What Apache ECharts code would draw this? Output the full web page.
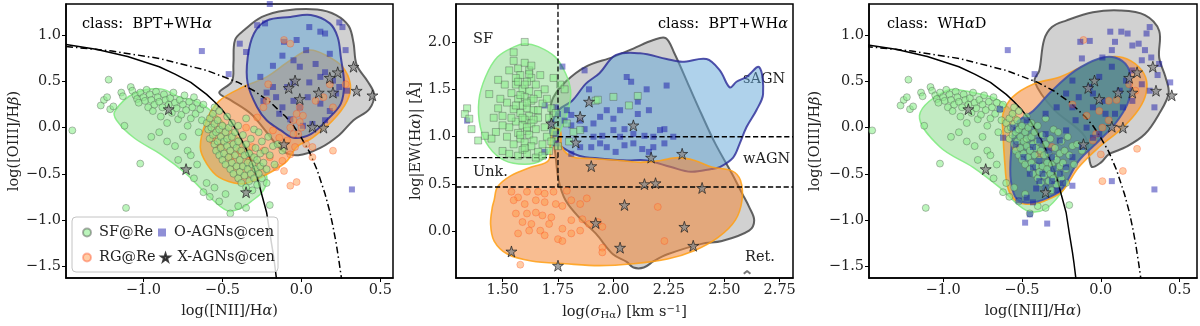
<!DOCTYPE html>
<html lang="en">
<head>
<meta charset="UTF-8">
<title>BPT / WHAN classes</title>
<style type="text/css">
    html, body { margin: 0; padding: 0; background: #fff; }
    #main { width: 1200px; height: 326px; }
</style>
</head>
<body>
<div id="main"></div>
<script src="https://cdn.jsdelivr.net/npm/echarts@6/dist/echarts.min.js"></script>
<script type="text/javascript">
// ---- tick labels ----
var bptXTicks = [-1.0, -0.5, 0.0, 0.5];
var bptYTicks = [-1.5, -1.0, -0.5, 0.0, 0.5, 1.0];
var sigmaTicks = [1.50, 1.75, 2.00, 2.25, 2.50, 2.75];
var ewTicks = [0.0, 0.5, 1.0, 1.5, 2.0];

// ---- demarcation curves ----
var kauffmannLine = [[-1.49,0.90],[-1.3,0.85],[-1.1,0.77],[-0.9,0.66],[-0.8,0.58],[-0.7,0.49],[-0.6,0.36],[-0.55,0.28],[-0.5,0.19],[-0.45,0.08],[-0.4,-0.06],[-0.35,-0.23],[-0.3,-0.44],[-0.27,-0.60],[-0.25,-0.73],[-0.22,-0.92],[-0.2,-1.14],[-0.18,-1.35],[-0.17,-1.47],[-0.157,-1.65]];
var kewleyLine = [[-1.49,0.88],[-1.2,0.83],[-0.9,0.75],[-0.6,0.62],[-0.4,0.49],[-0.3,0.40],[-0.2,0.28],[-0.1,0.12],[-0.05,0.02],[0.0,-0.11],[0.05,-0.26],[0.1,-0.46],[0.15,-0.72],[0.18,-0.91],[0.2,-1.07],[0.22,-1.25],[0.24,-1.47],[0.255,-1.65]];

// ---- panel 1 & 3 (BPT plane) points ----
var sfBpt = [[-1.45,-0.03],[-1.22,0.52],[-1.27,0.24],[-1.25,0.30],[-1.23,0.33],[-1.21,0.20],[-1.19,0.23],[-1.14,0.38],[-1.13,0.34],[-1.12,0.02],[-1.08,0.44],[-1.07,0.40],[-1.05,0.35],[-1.04,0.31],[-1.03,0.27],[-1.02,0.38],[-1.00,0.33],[-0.99,0.29],[-0.98,0.41],[-0.97,0.22],[-0.96,0.36],[-0.95,0.30],[-0.94,0.18],[-0.93,0.25],[-0.92,0.39],[-0.91,0.33],[-0.90,0.28],[-0.89,0.12],[-0.88,0.22],[-0.87,0.36],[-0.86,0.30],[-0.85,0.05],[-0.84,0.25],[-0.83,0.32],[-0.82,0.16],[-0.81,0.38],[-0.80,0.27],[-0.79,0.21],[-0.78,0.09],[-0.77,0.30],[-0.76,0.14],[-0.75,0.25],[-0.74,0.35],[-0.73,0.19],[-0.72,0.02],[-0.71,0.28],[-0.70,0.10],[-0.69,0.22],[-0.68,0.33],[-0.67,0.15],[-0.66,0.27],[-0.65,-0.05],[-0.64,0.20],[-0.63,0.08],[-0.62,0.25],
  [-1.02,-0.39],[-1.11,-0.87],[-0.95,-0.10],[-0.90,-0.05],[-0.85,-0.15],[-0.80,-0.20],[-0.78,-0.35],[-0.75,-0.10],[-0.72,-0.25],[-0.70,-0.30],[-0.68,-0.55],[-0.66,-0.40],[-0.62,-0.70],[-0.60,-0.60],[-0.58,-0.75],[-0.55,-0.65],[-0.52,-0.80],[-0.48,-0.72],[-0.45,-0.93],[-0.40,-0.85],[-0.35,-0.87],[-0.20,-0.84],[-0.22,-0.60],[-0.25,-0.55],
  [-0.60,0.05],[-0.59,-0.02],[-0.58,0.10],[-0.58,-0.12],[-0.57,0.00],[-0.56,-0.08],[-0.56,0.15],[-0.55,-0.18],[-0.55,0.04],[-0.54,-0.25],[-0.54,-0.05],[-0.53,0.08],[-0.53,-0.15],[-0.52,-0.30],[-0.52,-0.02],[-0.51,-0.10],[-0.51,-0.22],[-0.50,0.02],[-0.50,-0.35],[-0.49,-0.15],[-0.49,-0.28],[-0.48,-0.05],[-0.48,-0.40],[-0.47,-0.20],[-0.47,-0.12],[-0.46,-0.32],[-0.46,0.00],[-0.45,-0.45],[-0.45,-0.25],[-0.44,-0.10],[-0.44,-0.38],[-0.43,-0.18],[-0.43,-0.50],[-0.42,-0.30],[-0.42,-0.05],[-0.41,-0.42],[-0.41,-0.22],[-0.40,-0.55],[-0.40,-0.15],[-0.39,-0.35],[-0.39,-0.48],[-0.38,-0.25],[-0.38,-0.60],[-0.37,-0.08],[-0.37,-0.42],[-0.36,-0.30],[-0.36,-0.52],[-0.35,-0.18],[-0.35,-0.65],[-0.34,-0.38],[-0.34,-0.45],[-0.33,-0.28],[-0.33,-0.58],[-0.32,-0.12],[-0.32,-0.50],[-0.31,-0.40],[-0.31,-0.68],[-0.30,-0.32],[-0.30,-0.55],[-0.29,-0.22],[-0.29,-0.45],[-0.28,-0.62],[-0.28,-0.35],[-0.27,-0.50],[-0.26,-0.28],[-0.26,-0.42],[-0.25,-0.15],[-0.24,-0.38],[-0.23,-0.25],[-0.22,-0.45],[-0.21,-0.10],[-0.20,-0.30],[-0.18,-0.20],[-0.17,-0.40],[-0.15,-0.18],[-0.12,-0.25],[-0.55,0.22],[-0.52,0.18],[-0.47,0.12],[-0.44,0.05],[-0.40,0.02],[-0.35,0.10],[-0.30,-0.02],[-0.27,-0.05]];
var rgBpt = [[-0.11,0.95],[-0.07,0.91],[-0.21,0.47],[-0.22,0.29],[-0.24,0.22],[-0.28,0.11],[-0.35,0.00],[-0.18,-0.03],[-0.14,-0.11],[-0.09,-0.14],[-0.07,0.00],[-0.05,0.08],[-0.03,0.15],[-0.01,0.22],[-0.02,-0.07],[0.00,0.00],[-0.04,-0.21],[-0.07,-0.29],[-0.12,-0.36],[-0.11,-0.47],[-0.07,-0.63],[-0.03,-0.59],[-0.16,-0.43],[-0.20,-0.32],[-0.24,-0.25],[-0.31,-0.21],[-0.33,-0.36],[-0.39,-0.25],[-0.45,-0.32],[-0.52,-0.21],[-0.56,-0.14],[0.20,-0.25],[0.07,-0.32],[0.09,0.29],[0.14,0.33],[0.20,0.22],[0.28,0.47],[0.18,0.47],[0.07,-0.21],[0.03,-0.18],[0.01,0.13],[-0.01,0.06],[-0.05,-0.07]];
var agnOptBpt = [[-0.20,1.34],[-0.63,0.83],[-0.39,0.91],[-0.46,0.58],[-0.35,0.82],[-0.28,1.11],[-0.23,1.13],[-0.11,0.93],[-0.03,0.95],[0.05,1.09],[0.12,1.04],[0.15,1.02],[0.24,1.14],[0.26,1.09],[0.28,0.84],[0.18,0.80],[0.03,0.84],[-0.05,0.73],[-0.12,0.78],[-0.18,0.67],[-0.26,0.55],[-0.01,0.66],[0.09,0.69],[0.15,0.60],[0.20,0.51],[0.12,0.55],[0.05,0.49],[-0.05,0.49],[-0.09,0.44],[-0.18,0.44],[-0.22,0.38],[-0.24,0.29],[-0.16,0.33],[-0.12,0.22],[-0.05,0.29],[-0.01,0.22],[0.04,0.33],[0.12,0.26],[0.18,0.18],[0.22,0.37],[0.24,0.44],[0.29,0.40],[0.15,0.08],[0.07,0.04],[0.01,0.02],[-0.07,0.09],[-0.14,0.15],[0.32,-0.67]];
var agnXBpt = [[-0.84,0.20],[-0.73,-0.45],[-0.35,-0.70],[-0.11,-0.18],[-0.08,0.43],[-0.04,0.51],[-0.01,0.31],[0.07,0.01],[0.14,0.00],[0.11,0.38],[0.18,0.54],[0.23,0.60],[0.20,0.38],[0.33,0.66],[0.35,0.40],[0.45,0.35]];

// panel 3 (WHaD classes) reassigns the same galaxies
var rgWhad = [[-0.11,0.95],[-0.01,0.18],[0.00,-0.29],[0.01,-0.58],[0.14,-0.47],[0.23,-0.23],[0.18,0.47],[0.05,0.29],[-0.18,0.25],[-0.31,-0.21],[-0.39,-0.29],[-0.54,-0.21],[-0.05,-0.14],[-0.09,0.13],[0.01,0.00],[0.05,0.08],[-0.03,-0.07],[0.22,0.40],[0.10,0.30]];
var agnOptWhad = [[-0.59,0.84],[-0.42,0.58],[-0.13,0.93],[-0.07,0.94],[0.06,1.04],[0.13,1.04],[0.17,1.02],[0.29,1.02],[0.31,1.09],[0.20,0.89],[0.07,0.84],[0.01,0.76],[-0.12,0.75],[0.28,0.84],[0.26,0.73],[0.36,0.57],[0.44,0.49],[0.31,0.40],[0.34,0.22],[0.20,0.29],[0.14,0.22],[0.09,0.15],[0.03,0.15],[-0.05,0.37],[-0.18,0.51],[-0.22,0.37],[-0.28,0.22],[-0.35,0.15],[-0.64,0.20],[-0.62,-0.11],[-0.54,-0.18],[-0.49,-0.32],[-0.43,-0.43],[-0.39,-0.58],[-0.35,-0.65],[-0.31,-0.58],[-0.26,-0.50],[-0.22,-0.43],[-0.18,-0.32],[-0.12,-0.21],[-0.05,-0.11],[-0.01,-0.07],[-0.09,0.00],[-0.16,0.08],[-0.22,-0.03],[-0.26,-0.14],[-0.33,-0.25],[-0.39,-0.36],[-0.45,-0.50],[-0.52,-0.79],[-0.47,-0.76],[-0.43,-0.81],[-0.45,-0.94],[-0.48,-1.03],[-0.34,-1.04],[-0.18,-0.63],[0.07,-0.58],[0.34,-0.67],[-0.39,-0.14],[-0.35,-0.07],[-0.31,-0.32],[-0.43,-0.21],[-0.56,0.00],[-0.47,0.08],[0.20,0.62],[0.32,0.76],[0.37,0.69],[0.09,0.93],[0.24,0.91],[0.07,0.66],[-0.01,0.55],[-0.07,0.44],[-0.14,0.33],[-0.18,0.22],[-0.05,0.22],[0.01,0.29],[0.12,0.40],[0.16,0.51],[0.26,0.47],[-0.30,-0.45],[-0.37,-0.50],[-0.41,-0.66],[-0.28,-0.68],[-0.24,-0.60]];

// ---- panel 2 (sigma vs EW) points ----
var sfSigma = [[1.55,1.80],[1.57,1.72],[1.60,1.78],[1.62,1.70],[1.58,1.65],[1.63,1.62],[1.61,1.58],[1.56,1.55],[1.65,1.55],[1.59,1.50],[1.62,1.48],[1.54,1.46],[1.66,1.45],[1.60,1.42],[1.57,1.40],[1.63,1.38],[1.52,1.36],[1.68,1.35],[1.59,1.33],[1.61,1.30],[1.55,1.29],[1.64,1.28],[1.58,1.25],[1.62,1.22],[1.50,1.22],[1.66,1.20],[1.60,1.18],[1.56,1.16],[1.63,1.14],[1.59,1.12],[1.53,1.10],[1.65,1.08],[1.61,1.06],[1.57,1.04],[1.62,1.02],[1.58,0.98],[1.64,0.96],[1.60,0.94],[1.55,0.92],[1.63,0.90],[1.59,0.86],[1.61,0.82],[1.66,0.84],[1.57,0.80],[1.68,0.92],[1.70,1.00],[1.72,0.95],[1.69,1.10],[1.71,1.20],[1.73,1.05],[1.48,1.30],[1.46,1.20],[1.47,1.05],[1.45,0.98],[1.49,1.40],[1.44,1.45],[1.51,1.55],[1.48,1.60],[1.53,1.70],[1.56,1.62],[1.67,1.65],[1.69,1.50],[1.70,1.40],[1.72,1.30],[1.74,1.25],[1.76,1.55],[1.78,1.50],[1.73,1.62],[1.60,2.00],[1.55,1.89],[1.63,1.75],[1.34,1.30],[1.33,1.24],[1.35,1.19],[1.36,1.08],[1.39,0.96],[1.42,1.01],[1.50,0.85],[1.53,0.82],[1.65,0.78],[1.68,0.80],[1.71,0.85],[1.75,0.90],[1.80,0.95],[1.82,1.05],[1.79,1.14],[1.54,1.20],[1.56,1.33],[1.58,1.44],[1.60,1.55],[1.62,1.66],[1.57,1.58],[1.61,1.36],[1.59,1.20],[1.61,1.10],[1.58,1.02],[1.60,0.88],[1.64,1.18],[1.66,1.28],[1.64,1.40],[1.52,1.00],[1.50,1.12],[1.92,1.38],[2.00,1.42],[2.07,1.33],[2.11,1.43],[1.93,1.39],[1.85,1.07]];
var rgSigma = [[1.54,0.42],[1.57,0.36],[1.61,0.42],[1.66,0.42],[1.69,0.40],[1.73,0.42],[1.79,0.43],[1.55,0.33],[1.60,0.29],[1.65,0.33],[1.69,0.31],[1.74,0.29],[1.77,0.27],[1.81,0.33],[1.85,0.29],[1.88,0.35],[1.56,0.19],[1.61,0.19],[1.65,0.20],[1.68,0.17],[1.72,0.15],[1.59,0.10],[1.63,0.08],[1.67,0.01],[1.71,0.08],[1.77,0.03],[1.81,0.12],[1.86,0.13],[1.89,0.08],[1.93,0.10],[1.95,0.05],[1.85,0.01],[1.81,-0.02],[1.57,-0.02],[1.62,0.01],[1.75,-0.08],[1.77,-0.10],[1.69,-0.04],[1.95,-0.17],[1.95,-0.22],[1.58,-0.35],[2.20,0.26],[2.23,-0.10]];
var agnOptSigma = [[1.77,1.74],[1.87,1.70],[1.89,1.50],[2.06,1.63],[2.08,1.58],[2.15,1.50],[2.24,1.54],[2.11,1.37],[2.16,1.28],[2.11,1.24],[2.03,1.28],[2.00,1.19],[1.94,1.21],[1.97,1.28],[1.91,1.14],[1.85,1.17],[1.81,1.23],[1.79,1.28],[1.75,1.24],[1.74,1.31],[1.69,1.33],[1.72,1.15],[1.78,1.17],[1.81,1.12],[1.87,1.08],[1.91,1.00],[1.95,1.01],[2.00,1.07],[2.05,1.08],[2.09,1.03],[2.14,1.01],[2.18,1.00],[2.21,1.07],[2.23,1.08],[2.27,1.00],[2.23,0.93],[2.18,0.89],[2.13,0.87],[2.09,0.93],[2.05,0.91],[2.01,0.84],[1.97,0.89],[1.94,0.93],[1.90,0.89],[1.85,0.89],[1.81,0.82],[1.74,0.93],[1.69,0.84],[1.74,1.03],[2.03,1.00],[2.16,0.84],[1.34,1.17]];
var agnXSigma = [[1.54,-0.21],[1.75,-0.36],[1.72,1.14],[1.85,1.21],[1.89,1.37],[1.83,0.94],[1.90,0.69],[2.09,1.12],[2.17,0.78],[2.31,0.82],[2.14,0.50],[2.19,0.51],[2.40,0.46],[2.05,0.28],[1.92,0.09],[2.03,-0.17],[2.32,0.05],[2.36,-0.15]];

// ---- WHAN-style cuts in panel 2 ----
var sigmaCut = 1.75, ewSfCut = 0.78, ewAgnCut = 1.0, ewRetCut = 0.47;
var retMarker = [[2.588,-0.445],[2.603,-0.415],[2.618,-0.445]];

// ---- density contours ----
var contourSfBpt = [[-1.18,0.18],[-1.06,0.37],[-0.89,0.42],[-0.77,0.33],[-0.66,0.28],[-0.55,0.15],[-0.42,-0.08],[-0.30,-0.30],[-0.22,-0.52],[-0.24,-0.68],[-0.31,-0.79],[-0.39,-0.88],[-0.47,-0.90],[-0.60,-0.72],[-0.73,-0.50],[-0.89,-0.29],[-1.06,-0.11],[-1.17,0.08]];
var contourRgBpt = [[-0.64,-0.21],[-0.60,0.08],[-0.52,0.29],[-0.37,0.44],[-0.22,0.55],[-0.07,0.73],[0.05,0.84],[0.16,0.78],[0.26,0.66],[0.31,0.47],[0.29,0.29],[0.20,0.08],[0.07,-0.11],[-0.03,-0.21],[-0.09,-0.36],[-0.18,-0.47],[-0.31,-0.58],[-0.39,-0.61],[-0.52,-0.54],[-0.60,-0.39]];
var contourAgnBpt = [[-0.07,1.20],[0.06,1.22],[0.18,1.13],[0.23,0.98],[0.25,0.76],[0.27,0.48],[0.25,0.26],[0.16,0.08],[0.06,-0.07],[-0.05,-0.11],[-0.13,-0.03],[-0.22,0.08],[-0.28,0.22],[-0.34,0.48],[-0.34,0.76],[-0.30,1.02],[-0.22,1.16]];
var contourAllBpt = [[-0.42,0.95],[-0.36,1.06],[-0.25,1.20],[-0.10,1.27],[0.10,1.28],[0.22,1.22],[0.30,1.10],[0.33,0.92],[0.35,0.68],[0.42,0.50],[0.46,0.36],[0.43,0.20],[0.33,0.08],[0.24,-0.08],[0.12,-0.22],[-0.02,-0.30],[-0.12,-0.25],[-0.22,-0.05],[-0.32,0.15],[-0.45,0.30],[-0.52,0.38],[-0.44,0.50],[-0.43,0.70]];
var contourSfWhad = [[-1.15,0.13],[-0.98,0.40],[-0.81,0.38],[-0.64,0.29],[-0.52,0.10],[-0.40,-0.15],[-0.28,-0.40],[-0.22,-0.58],[-0.24,-0.68],[-0.35,-0.88],[-0.47,-0.90],[-0.64,-0.65],[-0.81,-0.43],[-1.02,-0.21]];
var contourRgWhad = [[-0.62,0.15],[-0.56,0.33],[-0.43,0.47],[-0.26,0.55],[-0.12,0.66],[0.03,0.76],[0.14,0.76],[0.24,0.66],[0.29,0.51],[0.28,0.33],[0.22,0.15],[0.12,-0.03],[-0.01,-0.21],[-0.14,-0.43],[-0.24,-0.68],[-0.31,-0.76],[-0.43,-0.83],[-0.54,-0.79],[-0.59,-0.65],[-0.61,-0.36],[-0.62,-0.07]];
var contourAgnWhad = [[-0.54,0.04],[-0.43,0.18],[-0.31,0.40],[-0.16,0.62],[-0.01,0.75],[0.09,0.76],[0.17,0.66],[0.19,0.47],[0.17,0.26],[0.09,0.04],[-0.01,-0.14],[-0.14,-0.36],[-0.24,-0.65],[-0.31,-0.74],[-0.43,-0.81],[-0.53,-0.78],[-0.57,-0.58],[-0.57,-0.29]];
var contourAllWhad = [[-0.36,0.95],[-0.31,1.09],[-0.22,1.16],[-0.05,1.25],[0.12,1.27],[0.28,1.22],[0.37,1.05],[0.37,0.76],[0.41,0.55],[0.43,0.37],[0.37,0.15],[0.28,-0.07],[0.16,-0.21],[0.05,-0.29],[0.00,-0.38],[-0.06,-0.42],[-0.10,-0.10],[-0.30,0.20],[-0.42,0.50],[-0.39,0.62]];
var contourSfSigma = [[1.554,1.95],[1.477,1.84],[1.423,1.63],[1.393,1.38],[1.40,1.10],[1.439,0.89],[1.508,0.75],[1.60,0.71],[1.676,0.75],[1.722,0.89],[1.768,1.10],[1.799,1.31],[1.807,1.49],[1.784,1.67],[1.738,1.84],[1.661,1.95],[1.60,1.98]];
var contourRgSigma = [[1.462,0.33],[1.477,0.47],[1.538,0.59],[1.63,0.68],[1.707,0.75],[1.715,0.93],[1.73,1.08],[1.76,1.07],[1.768,0.89],[1.814,0.79],[1.906,0.77],[2.03,0.75],[2.121,0.73],[2.213,0.75],[2.29,0.78],[2.367,0.75],[2.443,0.68],[2.535,0.64],[2.573,0.54],[2.58,0.33],[2.55,0.12],[2.474,-0.06],[2.367,-0.20],[2.244,-0.29],[2.09,-0.34],[1.937,-0.36],[1.784,-0.34],[1.63,-0.31],[1.523,-0.24],[1.462,-0.10],[1.446,0.08],[1.454,0.26]];
var contourAgnSigma = [[1.715,1.07],[1.753,1.28],[1.814,1.38],[1.876,1.56],[1.937,1.67],[2.01,1.86],[2.12,1.88],[2.24,1.82],[2.31,1.79],[2.42,1.82],[2.48,1.70],[2.525,1.52],[2.555,1.58],[2.60,1.63],[2.657,1.735],[2.675,1.45],[2.645,1.28],[2.60,1.10],[2.57,0.93],[2.54,0.78],[2.48,0.68],[2.443,0.66],[2.35,0.63],[2.26,0.68],[2.15,0.75],[2.06,0.75],[1.937,0.77],[1.845,0.80],[1.768,0.89],[1.73,0.98]];
var contourAllSigma = [[1.73,1.42],[1.784,1.58],[1.876,1.74],[1.998,1.84],[2.09,1.93],[2.18,2.02],[2.236,2.04],[2.275,1.88],[2.336,1.56],[2.397,1.24],[2.459,0.93],[2.535,0.61],[2.581,0.40],[2.612,0.26],[2.635,0.12],[2.612,0.01],[2.49,-0.10],[2.397,-0.13],[2.244,-0.24],[2.183,-0.31],[2.137,-0.38],[2.09,-0.38],[2.06,-0.32],[1.998,-0.24],[1.92,-0.02],[1.845,0.15],[1.784,0.33],[1.753,0.54],[1.738,0.82],[1.722,1.10],[1.715,1.28]];

// ---- styling ----
var FONT = 'DejaVu Serif';
var FS = 14.5;
var STAR = 'path://M50,2 L61,36 L97,36 L68,57 L79,92 L50,71 L21,92 L32,57 L3,36 L39,36 Z';
var green = { color: 'rgba(144,238,144,0.75)', borderColor: 'rgba(70,70,70,0.55)', borderWidth: 0.8 };
var orange = { color: 'rgba(255,150,70,0.6)', borderColor: 'rgba(255,60,20,0.45)', borderWidth: 0.8 };
var blue = { color: 'rgba(20,20,170,0.6)', borderWidth: 0 };
var star = { color: '#8a8a8a', borderColor: '#111', borderWidth: 0.8 };

function fmt(d) {
    return function (v) { return v.toFixed(d).replace('-', '\u2212'); };
}

var nameRich = {
    n: { fontFamily: FONT, fontSize: FS, color: '#222' },
    i: { fontFamily: FONT, fontSize: FS, color: '#222', fontStyle: 'italic' },
    s: { fontFamily: FONT, fontSize: 10, color: '#222', padding: [6, 0, 0, 0] },
    u: { fontFamily: FONT, fontSize: 10, color: '#222', padding: [0, 0, 7, 0] }
};

function xAx(i, min, max, ticks, d, name) {
    return {
        type: 'value', gridIndex: i, min: min, max: max,
        name: name, nameLocation: 'middle', nameGap: 26,
        nameTextStyle: { fontFamily: FONT, fontSize: FS, color: '#222', rich: nameRich },
        axisLine: { show: true, onZero: false, lineStyle: { color: '#000', width: 1.5 } },
        axisTick: { show: true, inside: false, length: 4, customValues: ticks, lineStyle: { color: '#000' } },
        axisLabel: { customValues: ticks, formatter: fmt(d), fontFamily: FONT, fontSize: FS, color: '#222', margin: 5 },
        splitLine: { show: false }
    };
}
function yAx(i, min, max, ticks, d, name, gap) {
    return {
        type: 'value', gridIndex: i, min: min, max: max,
        name: name, nameLocation: 'middle', nameGap: gap, nameRotate: 90,
        nameTextStyle: { fontFamily: FONT, fontSize: FS, color: '#222', rich: nameRich },
        axisLine: { show: true, onZero: false, lineStyle: { color: '#000', width: 1.5 } },
        axisTick: { show: true, inside: false, length: 4, customValues: ticks, lineStyle: { color: '#000' } },
        axisLabel: { customValues: ticks, formatter: fmt(d), fontFamily: FONT, fontSize: FS, color: '#222', margin: 5 },
        splitLine: { show: false }
    };
}

function contour(i, pts, fill, stroke, lw) {
    return {
        type: 'custom', xAxisIndex: i, yAxisIndex: i, silent: true, z: 1,
        data: [pts[0]],
        renderItem: function (params, api) {
            var p = pts.map(function (d) { return api.coord(d); });
            return { type: 'polygon', shape: { points: p, smooth: 0.35 },
                     style: { fill: fill, stroke: stroke, lineWidth: lw } };
        }
    };
}
function pts(i, name, data, symbol, size, style, z) {
    return { type: 'scatter', name: name, xAxisIndex: i, yAxisIndex: i, data: data,
             symbol: symbol, symbolSize: size, itemStyle: style, z: z, silent: true };
}
function line(i, data, type, w, color) {
    return { type: 'line', xAxisIndex: i, yAxisIndex: i, data: data, showSymbol: false,
             symbol: 'none', silent: true, z: 3,
             lineStyle: { color: color || '#000', width: w, type: type } };
}
function legendRow(top, names) {
    return {
        left: 82, top: top, padding: 0, z: 20,
        itemWidth: 8, itemHeight: 8, itemGap: 5, selectedMode: false,
        textStyle: { fontFamily: FONT, fontSize: FS, color: '#222', padding: [0, 0, 0, 3] },
        data: names
    };
}

var grayFill = 'rgba(135,135,135,0.38)', grayEdge = 'rgba(70,70,70,0.85)';
var blueFill = 'rgba(95,165,215,0.5)', blueEdge = 'rgba(40,40,150,0.8)';
var orangeFill = 'rgba(242,135,55,0.55)', orangeEdge = 'rgba(255,160,20,0.85)';
var greenFill = 'rgba(120,210,120,0.45)', greenEdge = 'rgba(130,235,130,0.9)';
var tealFill = 'rgba(70,135,150,0.85)', tealEdge = 'rgba(60,80,170,0.85)';

var chart = echarts.init(document.getElementById('main'), null, { renderer: 'canvas' });
chart.setOption({
    animation: false,
    backgroundColor: '#fff',
    grid: [
        { left: 66, top: 4, width: 327, height: 274, show: true, borderColor: '#000', borderWidth: 1.5, backgroundColor: 'transparent' },
        { left: 456, top: 4, width: 337, height: 274, show: true, borderColor: '#000', borderWidth: 1.5, backgroundColor: 'transparent' },
        { left: 869, top: 4, width: 328, height: 274, show: true, borderColor: '#000', borderWidth: 1.5, backgroundColor: 'transparent' }
    ],
    xAxis: [
        xAx(0, -1.49, 0.58, bptXTicks, 1, '{n|log([NII]/H}{i|α}{n|)}'),
        xAx(1, 1.29, 2.81, sigmaTicks, 2, '{n|log(}{i|σ}{s|Hα}{n|) [km s}{u|−1}{n|]}'),
        xAx(2, -1.47, 0.61, bptXTicks, 1, '{n|log([NII]/H}{i|α}{n|)}')
    ],
    yAxis: [
        yAx(0, -1.63, 1.34, bptYTicks, 1, '{n|log([OIII]/H}{i|β}{n|)}', 43),
        yAx(1, -0.49, 2.4, ewTicks, 1, '{n|log|EW(H}{i|α}{n|)| [Å]}', 32),
        yAx(2, -1.63, 1.34, bptYTicks, 1, '{n|log([OIII]/H}{i|β}{n|)}', 46)
    ],
    legend: [
        legendRow(225, ['SF@Re', 'O-AGNs@cen']),
        legendRow(250, ['RG@Re', 'X-AGNs@cen'])
    ],
    graphic: [
        { type: 'rect', z: 15, shape: { x: 72, y: 217, width: 206, height: 55, r: 4 },
          style: { fill: 'rgba(255,255,255,0.82)', stroke: '#c4c4c4', lineWidth: 1 } },
        { type: 'text', left: 82, top: 17, style: { text: '{n|class:  BPT+WH}{i|α}', rich: nameRich } },
        { type: 'text', left: 658, top: 17, style: { text: '{n|class:  BPT+WH}{i|α}', rich: nameRich } },
        { type: 'text', left: 887, top: 17, style: { text: '{n|class:  WH}{i|α}{n|D}', rich: nameRich } },
        { type: 'text', left: 473, top: 32, style: { text: 'SF', font: FS + 'px ' + FONT, fill: '#222' } },
        { type: 'text', left: 743, top: 72, style: { text: 'sAGN', font: FS + 'px ' + FONT, fill: '#222' } },
        { type: 'text', left: 743, top: 152, style: { text: 'wAGN', font: FS + 'px ' + FONT, fill: '#222' } },
        { type: 'text', left: 473, top: 165, style: { text: 'Unk.', font: FS + 'px ' + FONT, fill: '#222' } },
        { type: 'text', left: 745, top: 250, style: { text: 'Ret.', font: FS + 'px ' + FONT, fill: '#222' } }
    ],
    series: [
        // panel 1
        contour(0, contourAllBpt, grayFill, grayEdge, 2),
        contour(0, contourSfBpt, greenFill, greenEdge, 1.5),
        contour(0, contourRgBpt, orangeFill, orangeEdge, 1.6),
        contour(0, contourAgnBpt, blueFill, blueEdge, 2),
        line(0, kauffmannLine, 'solid', 1.5),
        line(0, kewleyLine, [7, 3, 1.5, 3], 1.5),
        pts(0, 'O-AGNs@cen', agnOptBpt, 'rect', 6, blue, 4),
        pts(0, 'RG@Re', rgBpt, 'circle', 7, orange, 5),
        pts(0, 'SF@Re', sfBpt, 'circle', 7, green, 6),
        pts(0, 'X-AGNs@cen', agnXBpt, STAR, 11, star, 7),

        // panel 2
        contour(1, contourAllSigma, grayFill, grayEdge, 2),
        contour(1, contourAgnSigma, blueFill, blueEdge, 2),
        contour(1, contourRgSigma, orangeFill, orangeEdge, 1.6),
        contour(1, contourSfSigma, greenFill, greenEdge, 1.5),
        line(1, [[sigmaCut, 2.4], [sigmaCut, ewRetCut]], 'dashed', 1.3),
        line(1, [[1.29, ewSfCut], [sigmaCut, ewSfCut]], 'dashed', 1.3),
        line(1, [[sigmaCut, ewAgnCut], [2.81, ewAgnCut]], 'dashed', 1.3),
        line(1, [[1.29, ewRetCut], [2.81, ewRetCut]], 'dashed', 1.3),
        line(1, retMarker, 'solid', 2, '#777'),
        pts(1, 'O-AGNs', agnOptSigma, 'rect', 6, blue, 4),
        pts(1, 'RG', rgSigma, 'circle', 7, orange, 5),
        pts(1, 'SF', sfSigma, 'rect', 7, green, 6),
        pts(1, 'X-AGNs', agnXSigma, STAR, 11, star, 7),

        // panel 3
        contour(2, contourAllWhad, grayFill, grayEdge, 2),
        contour(2, contourSfWhad, greenFill, greenEdge, 1.5),
        contour(2, contourRgWhad, orangeFill, orangeEdge, 1.6),
        contour(2, contourAgnWhad, tealFill, tealEdge, 2),
        line(2, kauffmannLine, 'solid', 1.5),
        line(2, kewleyLine, [7, 3, 1.5, 3], 1.5),
        pts(2, 'RG (WHaD)', rgWhad, 'circle', 7, orange, 4),
        pts(2, 'SF (WHaD)', sfBpt, 'circle', 7, green, 5),
        pts(2, 'O-AGNs (WHaD)', agnOptWhad, 'rect', 6, blue, 6),
        pts(2, 'X-AGNs (WHaD)', agnXBpt, STAR, 11, star, 7)
    ]
});
</script>
</body>
</html>
